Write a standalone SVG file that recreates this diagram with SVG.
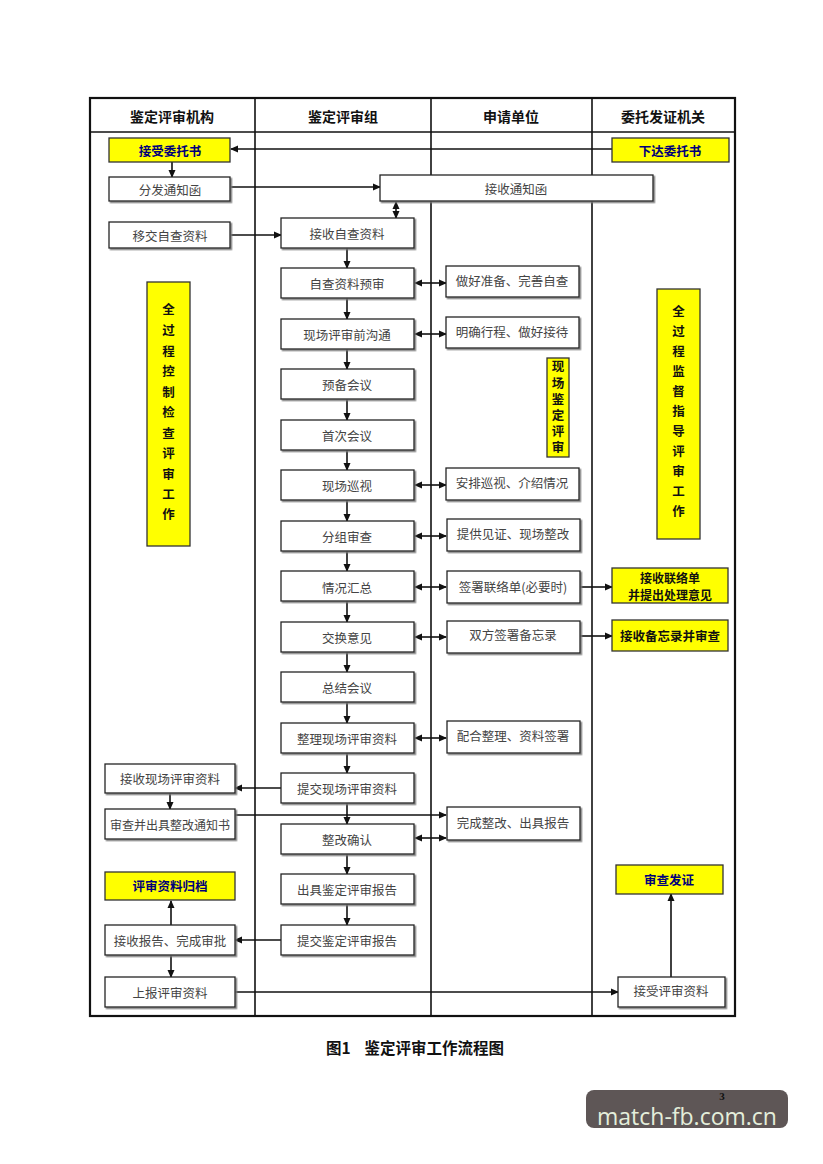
<svg xmlns="http://www.w3.org/2000/svg" width="823" height="1164" viewBox="0 0 823 1164">
<style>
.frame{fill:none;stroke:#111;stroke-width:2.2}
.col{stroke:#111;stroke-width:1.6}
.box{fill:#fff;stroke:#222;stroke-width:1.3}
.ybox{fill:#ffff00;stroke:#333;stroke-width:1.3}
.t{font-family:"Noto Sans CJK SC","Noto Sans CJK JP",sans-serif;font-size:12.5px;fill:#444;text-anchor:middle;dominant-baseline:central}
.hd{font-family:"Noto Sans CJK SC",sans-serif;font-size:14px;font-weight:bold;fill:#111;text-anchor:middle;dominant-baseline:central}
.yb{font-family:"Noto Sans CJK SC",sans-serif;font-size:12.5px;font-weight:bold;fill:#00007a;text-anchor:middle;dominant-baseline:central}
.yk{font-family:"Noto Sans CJK SC",sans-serif;font-size:12.5px;font-weight:bold;fill:#111;text-anchor:middle;dominant-baseline:central}
.conn line,.conn polyline{stroke:#111;stroke-width:1.6;fill:none}
</style>
<defs>
<marker id="ah" markerWidth="8" markerHeight="8" refX="7" refY="4" orient="auto" markerUnits="userSpaceOnUse">
<path d="M0,0.5 L8,4 L0,7.5 Z" fill="#111"/>
</marker>
<marker id="as" markerWidth="8" markerHeight="8" refX="1" refY="4" orient="auto" markerUnits="userSpaceOnUse">
<path d="M8,0.5 L0,4 L8,7.5 Z" fill="#111"/>
</marker>
<filter id="sh" x="-10%" y="-10%" width="130%" height="140%">
<feDropShadow dx="1.5" dy="1.5" stdDeviation="0.4" flood-color="#777" flood-opacity="0.9"/>
</filter>
</defs>
<rect width="823" height="1164" fill="#fff"/>

<g id="frame">
<rect class="frame" x="90" y="98" width="645" height="918"/>
<line class="col" x1="90" y1="132" x2="735" y2="132"/>
<line class="col" x1="255" y1="98" x2="255" y2="1016"/>
<line class="col" x1="431" y1="98" x2="431" y2="1016"/>
<line class="col" x1="592" y1="98" x2="592" y2="1016"/>
<text class="hd" x="172" y="116">鉴定评审机构</text>
<text class="hd" x="343" y="116">鉴定评审组</text>
<text class="hd" x="511" y="116">申请单位</text>
<text class="hd" x="663" y="116">委托发证机关</text>
</g>

<g class="conn" id="connectors">
<line x1="612" y1="149" x2="231" y2="149" marker-end="url(#ah)"/>
<line x1="172" y1="162" x2="172" y2="177" marker-end="url(#ah)"/>
<line x1="231" y1="187" x2="380" y2="187" marker-end="url(#ah)"/>
<line x1="396" y1="202" x2="396" y2="218" marker-start="url(#as)" marker-end="url(#ah)"/>
<line x1="231" y1="235" x2="281" y2="235" marker-end="url(#ah)"/>
<line x1="347" y1="248" x2="347" y2="268" marker-end="url(#ah)"/>
<line x1="347" y1="298" x2="347" y2="319" marker-end="url(#ah)"/>
<line x1="347" y1="349" x2="347" y2="369" marker-end="url(#ah)"/>
<line x1="347" y1="399" x2="347" y2="420" marker-end="url(#ah)"/>
<line x1="347" y1="450" x2="347" y2="470" marker-end="url(#ah)"/>
<line x1="347" y1="500" x2="347" y2="521" marker-end="url(#ah)"/>
<line x1="347" y1="551" x2="347" y2="571" marker-end="url(#ah)"/>
<line x1="347" y1="601" x2="347" y2="622" marker-end="url(#ah)"/>
<line x1="347" y1="652" x2="347" y2="672" marker-end="url(#ah)"/>
<line x1="347" y1="702" x2="347" y2="723" marker-end="url(#ah)"/>
<line x1="347" y1="753" x2="347" y2="773" marker-end="url(#ah)"/>
<line x1="347" y1="803" x2="347" y2="824" marker-end="url(#ah)"/>
<line x1="347" y1="854" x2="347" y2="874" marker-end="url(#ah)"/>
<line x1="347" y1="904" x2="347" y2="925" marker-end="url(#ah)"/>
<line x1="415" y1="283" x2="446" y2="283" marker-start="url(#as)" marker-end="url(#ah)"/>
<line x1="415" y1="334" x2="446" y2="334" marker-start="url(#as)" marker-end="url(#ah)"/>
<line x1="415" y1="485" x2="446" y2="485" marker-start="url(#as)" marker-end="url(#ah)"/>
<line x1="415" y1="536" x2="446" y2="536" marker-start="url(#as)" marker-end="url(#ah)"/>
<line x1="415" y1="587" x2="446" y2="587" marker-start="url(#as)" marker-end="url(#ah)"/>
<line x1="415" y1="637" x2="446" y2="637" marker-start="url(#as)" marker-end="url(#ah)"/>
<line x1="415" y1="738" x2="446" y2="738" marker-start="url(#as)" marker-end="url(#ah)"/>
<line x1="415" y1="838" x2="446" y2="838" marker-start="url(#as)" marker-end="url(#ah)"/>
<line x1="580" y1="587" x2="612" y2="587" marker-end="url(#ah)"/>
<line x1="580" y1="636" x2="612" y2="636" marker-end="url(#ah)"/>
<line x1="281" y1="788" x2="235" y2="788" marker-end="url(#ah)"/>
<line x1="170" y1="793" x2="170" y2="809" marker-end="url(#ah)"/>
<line x1="235" y1="815" x2="446" y2="815" marker-end="url(#ah)"/>
<line x1="281" y1="940" x2="235" y2="940" marker-end="url(#ah)"/>
<line x1="171" y1="925" x2="171" y2="901" marker-end="url(#ah)"/>
<line x1="171" y1="955" x2="171" y2="977" marker-end="url(#ah)"/>
<line x1="235" y1="992" x2="618" y2="992" marker-end="url(#ah)"/>
<line x1="671" y1="977" x2="671" y2="894" marker-end="url(#ah)"/>
</g>

<g id="n_jieshouweituoshu"><rect class="ybox" x="109" y="138" width="121" height="24"/><text class="yb" x="170" y="150">接受委托书</text></g>
<g id="n_xiadaweituoshu"><rect class="ybox" x="612" y="138" width="117" height="24"/><text class="yb" x="670" y="150">下达委托书</text></g>
<g id="n_fenfa"><rect class="box" filter="url(#sh)" x="109" y="177" width="121" height="24"/><text class="t" x="170" y="189">分发通知函</text></g>
<g id="n_jieshoutongzhi"><rect class="box" filter="url(#sh)" x="380" y="175" width="273" height="26"/><text class="t" x="516" y="188">接收通知函</text></g>
<g id="n_yijiao"><rect class="box" filter="url(#sh)" x="109" y="222" width="121" height="26"/><text class="t" x="170" y="235">移交自查资料</text></g>

<g id="n_c2_0"><rect class="box" filter="url(#sh)" x="281" y="218" width="133" height="30"/><text class="t" x="347" y="233">接收自查资料</text></g>
<g id="n_c2_1"><rect class="box" filter="url(#sh)" x="281" y="268" width="133" height="30"/><text class="t" x="347" y="283">自查资料预审</text></g>
<g id="n_c2_2"><rect class="box" filter="url(#sh)" x="281" y="319" width="133" height="30"/><text class="t" x="347" y="334">现场评审前沟通</text></g>
<g id="n_c2_3"><rect class="box" filter="url(#sh)" x="281" y="369" width="133" height="30"/><text class="t" x="347" y="384">预备会议</text></g>
<g id="n_c2_4"><rect class="box" filter="url(#sh)" x="281" y="420" width="133" height="30"/><text class="t" x="347" y="435">首次会议</text></g>
<g id="n_c2_5"><rect class="box" filter="url(#sh)" x="281" y="470" width="133" height="30"/><text class="t" x="347" y="485">现场巡视</text></g>
<g id="n_c2_6"><rect class="box" filter="url(#sh)" x="281" y="521" width="133" height="30"/><text class="t" x="347" y="536">分组审查</text></g>
<g id="n_c2_7"><rect class="box" filter="url(#sh)" x="281" y="571" width="133" height="30"/><text class="t" x="347" y="587">情况汇总</text></g>
<g id="n_c2_8"><rect class="box" filter="url(#sh)" x="281" y="622" width="133" height="30"/><text class="t" x="347" y="637">交换意见</text></g>
<g id="n_c2_9"><rect class="box" filter="url(#sh)" x="281" y="672" width="133" height="30"/><text class="t" x="347" y="687">总结会议</text></g>
<g id="n_c2_10"><rect class="box" filter="url(#sh)" x="281" y="723" width="133" height="30"/><text class="t" x="347" y="738">整理现场评审资料</text></g>
<g id="n_c2_11"><rect class="box" filter="url(#sh)" x="281" y="773" width="133" height="30"/><text class="t" x="347" y="788">提交现场评审资料</text></g>
<g id="n_c2_12"><rect class="box" filter="url(#sh)" x="281" y="824" width="133" height="30"/><text class="t" x="347" y="839">整改确认</text></g>
<g id="n_c2_13"><rect class="box" filter="url(#sh)" x="281" y="874" width="133" height="30"/><text class="t" x="347" y="889">出具鉴定评审报告</text></g>
<g id="n_c2_14"><rect class="box" filter="url(#sh)" x="281" y="925" width="133" height="30"/><text class="t" x="347" y="940">提交鉴定评审报告</text></g>

<g id="n_c3_0"><rect class="box" filter="url(#sh)" x="446" y="266" width="133" height="31"/><text class="t" x="512" y="280">做好准备、完善自查</text></g>
<g id="n_c3_1"><rect class="box" filter="url(#sh)" x="446" y="317" width="133" height="31"/><text class="t" x="512" y="331">明确行程、做好接待</text></g>
<g id="n_c3_2"><rect class="box" filter="url(#sh)" x="446" y="468" width="133" height="32"/><text class="t" x="512" y="482">安排巡视、介绍情况</text></g>
<g id="n_c3_3"><rect class="box" filter="url(#sh)" x="447" y="519" width="133" height="32"/><text class="t" x="513" y="533">提供见证、现场整改</text></g>
<g id="n_c3_4"><rect class="box" filter="url(#sh)" x="447" y="571" width="133" height="32"/><text class="t" x="513" y="586">签署联络单(必要时)</text></g>
<g id="n_c3_5"><rect class="box" filter="url(#sh)" x="447" y="621" width="133" height="32"/><text class="t" x="513" y="634">双方签署备忘录</text></g>
<g id="n_c3_6"><rect class="box" filter="url(#sh)" x="447" y="721" width="133" height="32"/><text class="t" x="513" y="735">配合整理、资料签署</text></g>
<g id="n_c3_7"><rect class="box" filter="url(#sh)" x="447" y="807" width="133" height="33"/><text class="t" x="513" y="822">完成整改、出具报告</text></g>

<g id="n_xianchang"><rect class="ybox" x="547" y="358" width="22" height="99"/>
<text class="yk" x="558" y="409" style="writing-mode:vertical-rl;text-orientation:upright;letter-spacing:3.7px">现场鉴定评审</text></g>

<g id="n_quanguocheng_l"><rect class="ybox" x="147" y="282" width="43" height="264"/>
<text class="yk"><tspan x="168.5" y="308">全</tspan><tspan x="168.5" y="329">过</tspan><tspan x="168.5" y="349.5">程</tspan><tspan x="168.5" y="370">控</tspan><tspan x="168.5" y="390.5">制</tspan><tspan x="168.5" y="411">检</tspan><tspan x="168.5" y="431.5">查</tspan><tspan x="168.5" y="452">评</tspan><tspan x="168.5" y="472.5">审</tspan><tspan x="168.5" y="493">工</tspan><tspan x="168.5" y="513">作</tspan></text></g>

<g id="n_quanguocheng_r"><rect class="ybox" x="657" y="289" width="43" height="250"/>
<text class="yk"><tspan x="678.5" y="310">全</tspan><tspan x="678.5" y="330">过</tspan><tspan x="678.5" y="350">程</tspan><tspan x="678.5" y="370">监</tspan><tspan x="678.5" y="390">督</tspan><tspan x="678.5" y="410">指</tspan><tspan x="678.5" y="430">导</tspan><tspan x="678.5" y="450">评</tspan><tspan x="678.5" y="470">审</tspan><tspan x="678.5" y="490">工</tspan><tspan x="678.5" y="510">作</tspan></text></g>

<g id="n_lianluodan"><rect class="ybox" x="612" y="568" width="116" height="35"/><text class="yk" style="font-size:12px"><tspan x="670" y="576.5">接收联络单</tspan><tspan x="670" y="594">并提出处理意见</tspan></text></g>
<g id="n_beiwanglu"><rect class="ybox" x="612" y="620" width="116" height="31"/><text class="yk" x="670" y="635">接收备忘录并审查</text></g>

<g id="n_jieshouxianchang"><rect class="box" filter="url(#sh)" x="105" y="764" width="130" height="29"/><text class="t" x="170" y="778">接收现场评审资料</text></g>
<g id="n_shenchazhenggai"><rect class="box" filter="url(#sh)" x="105" y="809" width="130" height="30"/><text class="t" style="font-size:12px" x="170" y="824">审查并出具整改通知书</text></g>
<g id="n_guidang"><rect class="ybox" x="105" y="872" width="130" height="28"/><text class="yb" x="170" y="885">评审资料归档</text></g>
<g id="n_jieshoubaogao"><rect class="box" filter="url(#sh)" x="105" y="925" width="130" height="30"/><text class="t" x="170" y="940">接收报告、完成审批</text></g>
<g id="n_shangbao"><rect class="box" filter="url(#sh)" x="105" y="977" width="130" height="30"/><text class="t" x="170" y="992">上报评审资料</text></g>
<g id="n_shenchafazheng"><rect class="ybox" x="616" y="865" width="107" height="29"/><text class="yb" x="669" y="879">审查发证</text></g>
<g id="n_jieshoupingshen"><rect class="box" filter="url(#sh)" x="618" y="977" width="107" height="30"/><text class="t" x="671" y="990">接受评审资料</text></g>

<g id="caption">
<text x="415" y="1047" style="font-family:'Noto Sans CJK SC',sans-serif;font-size:15.5px;font-weight:bold;fill:#111;text-anchor:middle;dominant-baseline:central" xml:space="preserve">图1    鉴定评审工作流程图</text>
</g>

<g id="watermark">
<rect x="586" y="1090" width="202" height="38" rx="8" fill="#5e5656"/>
<text x="722" y="1096" style="font-family:'Liberation Serif',serif;font-size:11px;font-weight:bold;fill:#111;text-anchor:middle;dominant-baseline:central">3</text>
<text x="687" y="1116" style="font-family:'Open Sans','DejaVu Sans',sans-serif;font-size:23px;fill:#e4eedb;text-anchor:middle;dominant-baseline:central">match-fb.com.cn</text>
</g>
</svg>
